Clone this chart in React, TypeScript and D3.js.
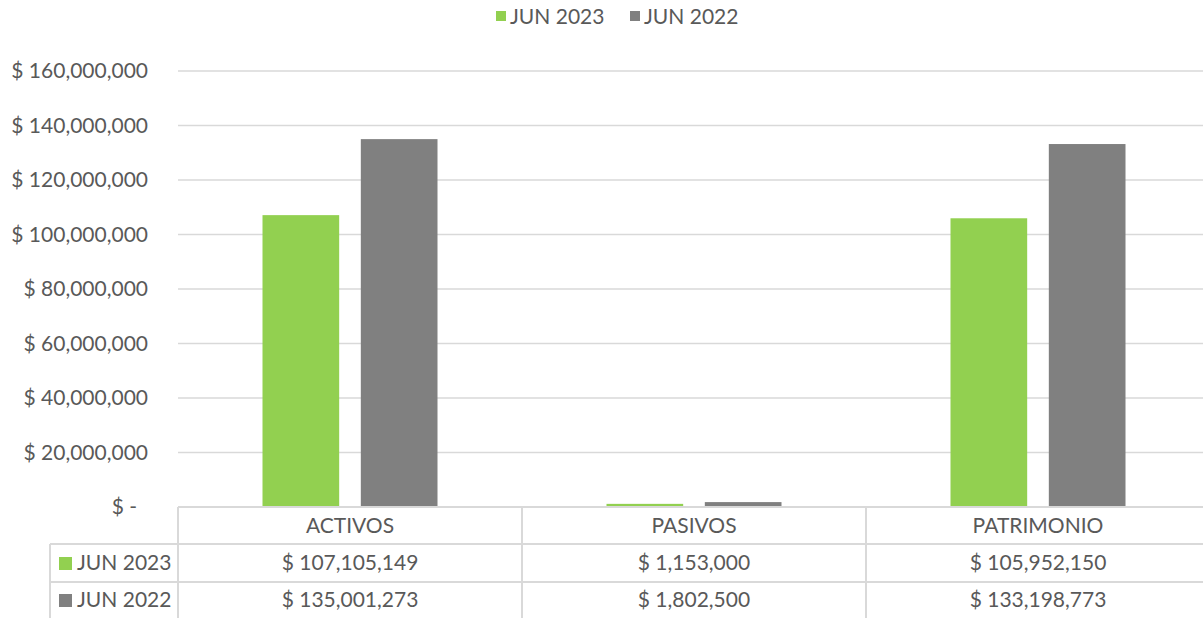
import React from "react";
import * as d3 from "d3";

const categories = ["ACTIVOS", "PASIVOS", "PATRIMONIO"];
const seriesNames = ["JUN 2023", "JUN 2022"];
const jun2023 = [107105149, 1153000, 105952150];
const jun2022 = [135001273, 1802500, 133198773];
const yTicks = [0, 20000000, 40000000, 60000000, 80000000, 100000000, 120000000, 140000000, 160000000];
const colors = ["#92D050", "#808080"];

const W = 1203;
const H = 618;
const FONT = "Lato, 'Open Sans', sans-serif";
const TEXT = "#595959";
const GRID = "#d9d9d9";
const FS = 21;

const fmt = (v: number) => (v === 0 ? "$ -" : "$ " + d3.format(",")(v));

export default function App() {
  const left = 178;
  const right = 1210;
  const top = 71;
  const bottom = 507;
  const y = d3.scaleLinear().domain([0, 160000000]).range([bottom, top]);
  const x = d3.scaleBand<string>().domain(categories).range([left, right]);
  const inner = d3.scaleBand<string>().domain(seriesNames).range([-49 - 38.5, 49 + 38.5]).paddingInner(0.22);
  const series = [jun2023, jun2022];

  const rowTop = 507;
  const rowH = [37, 38, 36];
  const rowY = [rowTop, rowTop + rowH[0], rowTop + rowH[0] + rowH[1], H];
  const tableLeft = 50;

  return (
    <svg width={W} height={H} style={{ position: "absolute", left: 0, top: 0 }} fontFamily={FONT}>
      <rect width={W} height={H} fill="#fff" />
      {/* legend */}
      {seriesNames.map((s, i) => {
        const lx = 496 + i * 134;
        return (
          <g key={s}>
            <rect x={lx} y={11} width={10} height={10} fill={colors[i]} />
            <text x={lx + 14} y={24} fontSize={FS} fill={TEXT}>{s}</text>
          </g>
        );
      })}
      {/* gridlines */}
      {yTicks.map((t) => (
        <g key={t}>
          {t !== 0 && <line x1={left} x2={right} y1={y(t)} y2={y(t)} stroke={GRID} strokeWidth={1.5} />}
          <text
            x={t === 0 ? 137 : 148}
            y={y(t)}
            dy="0.35em"
            textAnchor="end"
            fontSize={FS}
            fill={TEXT}
          >
            {fmt(t)}
          </text>
        </g>
      ))}
      {/* bars */}
      {categories.map((c, ci) => {
        const cx = (x(c) as number) + x.bandwidth() / 2;
        return series.map((vals, si) => (
          <rect
            key={c + si}
            x={cx + (inner(seriesNames[si]) as number)}
            width={inner.bandwidth()}
            y={y(vals[ci])}
            height={bottom - y(vals[ci])}
            fill={colors[si]}
          />
        ));
      })}
      {/* table lines */}
      <line x1={left} x2={right} y1={rowY[0]} y2={rowY[0]} stroke={GRID} strokeWidth={2} />
      <line x1={tableLeft} x2={right} y1={rowY[1]} y2={rowY[1]} stroke={GRID} strokeWidth={2} />
      <line x1={tableLeft} x2={right} y1={rowY[2]} y2={rowY[2]} stroke={GRID} strokeWidth={2} />
      <line x1={tableLeft} x2={tableLeft} y1={rowY[1]} y2={H} stroke={GRID} strokeWidth={2} />
      {categories.map((c) => (
        <line key={c} x1={x(c) as number} x2={x(c) as number} y1={rowY[0]} y2={H} stroke={GRID} strokeWidth={2} />
      ))}
      {/* header */}
      {categories.map((c) => (
        <text
          key={c}
          x={(x(c) as number) + x.bandwidth() / 2}
          y={(rowY[0] + rowY[1]) / 2}
          dy="0.35em"
          textAnchor="middle"
          fontSize={FS}
          fill={TEXT}
        >
          {c}
        </text>
      ))}
      {/* rows */}
      {series.map((vals, si) => {
        const cy = (rowY[si + 1] + rowY[si + 2]) / 2;
        return (
          <g key={si}>
            <rect x={59} y={cy - 6} width={13} height={13} fill={colors[si]} />
            <text x={77} y={cy} dy="0.35em" fontSize={FS} fill={TEXT}>{seriesNames[si]}</text>
            {categories.map((c, ci) => (
              <text
                key={c}
                x={(x(c) as number) + x.bandwidth() / 2}
                y={cy}
                dy="0.35em"
                textAnchor="middle"
                fontSize={FS}
                fill={TEXT}
              >
                {fmt(vals[ci])}
              </text>
            ))}
          </g>
        );
      })}
    </svg>
  );
}
